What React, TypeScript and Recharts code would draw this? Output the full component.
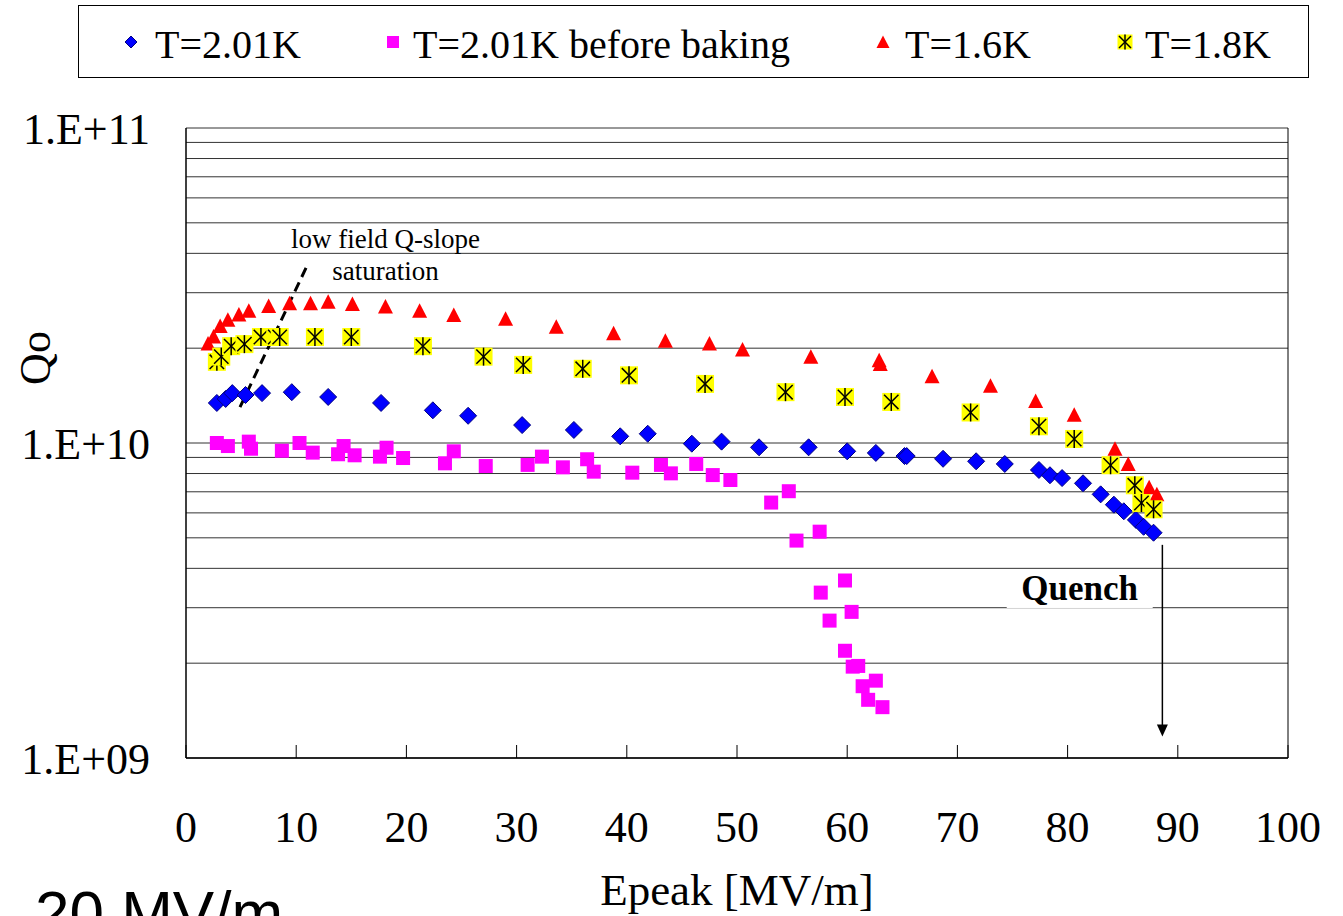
import {
  CartesianGrid,
  Legend,
  ReferenceDot,
  ReferenceLine,
  Scatter,
  ScatterChart,
  XAxis,
  YAxis,
} from "recharts";

const SERIF = '"Liberation Serif", "Times New Roman", serif';
const SANS = '"Liberation Sans", Arial, sans-serif';

const seriesNames = ["T=2.01K", "T=2.01K before baking", "T=1.6K", "T=1.8K"];

const xTicks = [0, 10, 20, 30, 40, 50, 60, 70, 80, 90, 100];
const yTicks = [
  1e9, 2e9, 3e9, 4e9, 5e9, 6e9, 7e9, 8e9, 9e9,
  1e10, 2e10, 3e10, 4e10, 5e10, 6e10, 7e10, 8e10, 9e10,
  1e11,
];
const yLabelTicks = [1e9, 1e10, 1e11];

// [Epeak MV/m, Qo]
const t201K: [number, number][] = [
  [2.8, 1.34e10], [3.6, 1.38e10], [4.2, 1.44e10], [5.4, 1.42e10], [6.9, 1.44e10],
  [9.6, 1.45e10], [12.9, 1.4e10], [17.7, 1.34e10], [22.4, 1.27e10], [25.6, 1.22e10],
  [30.5, 1.14e10], [35.2, 1.1e10], [39.4, 1.05e10], [41.9, 1.07e10], [45.9, 9.95e9],
  [48.6, 1.01e10], [52.0, 9.69e9], [56.5, 9.69e9], [60.0, 9.41e9], [62.6, 9.3e9],
  [65.2, 9.09e9], [65.4, 9.09e9], [68.7, 8.91e9], [71.7, 8.75e9], [74.3, 8.58e9],
  [77.4, 8.21e9], [78.4, 7.9e9], [79.5, 7.74e9], [81.4, 7.45e9], [83.0, 6.87e9],
  [84.2, 6.37e9], [85.1, 6.07e9], [86.2, 5.7e9], [86.9, 5.42e9], [87.8, 5.19e9],
];

const t201KBeforeBaking: [number, number][] = [
  [2.8, 1.0e10], [3.8, 9.78e9], [5.7, 1.01e10], [5.9, 9.59e9], [8.7, 9.45e9],
  [10.3, 1.0e10], [11.5, 9.32e9], [13.8, 9.21e9], [14.3, 9.78e9], [15.3, 9.14e9],
  [17.6, 9.05e9], [18.2, 9.66e9], [19.7, 8.96e9], [23.5, 8.62e9], [24.3, 9.41e9],
  [27.2, 8.45e9], [31.0, 8.52e9], [32.3, 9.05e9], [34.2, 8.37e9], [36.4, 8.88e9],
  [37.0, 8.11e9], [40.5, 8.05e9], [43.1, 8.52e9], [44.0, 8.01e9], [46.3, 8.58e9],
  [47.8, 7.91e9], [49.4, 7.63e9], [53.1, 6.47e9], [54.7, 7.03e9], [55.4, 4.9e9],
  [57.5, 5.23e9], [57.6, 3.35e9], [59.8, 3.66e9], [58.4, 2.73e9], [60.4, 2.91e9],
  [59.8, 2.19e9], [60.5, 1.95e9], [61.0, 1.96e9], [61.4, 1.69e9], [62.6, 1.76e9],
  [61.9, 1.53e9], [63.2, 1.45e9],
];

const t16K: [number, number][] = [
  [2.0, 2.07e10], [2.5, 2.18e10], [3.1, 2.35e10], [3.8, 2.46e10], [4.8, 2.56e10],
  [5.7, 2.63e10], [7.5, 2.72e10], [9.4, 2.78e10], [11.3, 2.78e10], [12.9, 2.81e10],
  [15.1, 2.76e10], [18.1, 2.71e10], [21.2, 2.63e10], [24.3, 2.55e10], [29.0, 2.48e10],
  [33.6, 2.34e10], [38.8, 2.23e10], [43.5, 2.11e10], [47.5, 2.07e10], [50.5, 1.98e10],
  [56.7, 1.88e10], [62.9, 1.83e10], [63.0, 1.78e10], [67.7, 1.63e10], [73.0, 1.52e10],
  [77.1, 1.36e10], [80.6, 1.23e10], [84.3, 9.59e9], [85.5, 8.58e9], [87.4, 7.23e9],
  [88.1, 6.88e9],
];

const t18K: [number, number][] = [
  [2.8, 1.81e10], [3.2, 1.88e10], [4.1, 2.03e10], [5.3, 2.06e10], [6.8, 2.17e10],
  [8.1, 2.17e10], [8.5, 2.17e10], [11.7, 2.17e10], [15.0, 2.17e10], [21.5, 2.03e10],
  [27.0, 1.88e10], [30.6, 1.77e10], [36.0, 1.72e10], [40.2, 1.64e10], [47.1, 1.54e10],
  [54.4, 1.45e10], [59.8, 1.4e10], [64.0, 1.35e10], [71.2, 1.25e10], [77.4, 1.13e10],
  [80.6, 1.03e10], [83.9, 8.5e9], [86.1, 7.34e9], [86.7, 6.45e9], [87.8, 6.16e9],
];

const toPoints = (rows: [number, number][]) => rows.map(([x, y]) => ({ x, y }));

function Diamond({ cx, cy, r = 8.5 }: any) {
  return (
    <polygon
      points={`${cx},${cy - r} ${cx + r},${cy} ${cx},${cy + r} ${cx - r},${cy}`}
      fill="#0000FF"
      stroke="#000080"
      strokeWidth={1}
    />
  );
}

function Square({ cx, cy, r = 7 }: any) {
  return <rect x={cx - r} y={cy - r} width={2 * r} height={2 * r} fill="#FF00FF" />;
}

function Triangle({ cx, cy, r = 7.5 }: any) {
  return (
    <polygon
      points={`${cx},${cy - r} ${cx + r},${cy + r - 0.5} ${cx - r},${cy + r - 0.5}`}
      fill="#FF0000"
    />
  );
}

function StarBox({ cx, cy, r = 9 }: any) {
  const d = r * 0.8;
  return (
    <g>
      <rect x={cx - r} y={cy - r} width={2 * r} height={2 * r} fill="#FFFF00" />
      <g stroke="#000" strokeWidth={1.5}>
        <line x1={cx} y1={cy - r} x2={cx} y2={cy + r} />
        <line x1={cx - d} y1={cy - d} x2={cx + d} y2={cy + d} />
        <line x1={cx - d} y1={cy + d} x2={cx + d} y2={cy - d} />
      </g>
    </g>
  );
}

const legendIcons = [
  <Diamond cx={10} cy={10} r={6} />,
  <Square cx={10} cy={10} r={6} />,
  <Triangle cx={10} cy={10} r={6.5} />,
  <StarBox cx={10} cy={10} r={7.5} />,
];

function LegendBox() {
  const centers = [52, 314, 804, 1046];
  const gaps = [14, 10, 12, 10];
  return (
    <div
      style={{
        width: 1231,
        height: 73,
        border: "1px solid #000",
        boxSizing: "border-box",
        position: "relative",
        background: "#fff",
        fontFamily: SERIF,
        fontSize: 40,
        color: "#000",
      }}
    >
      {seriesNames.map((name, i) => (
        <div
          key={name}
          style={{
            position: "absolute",
            left: centers[i] - 10,
            top: 0,
            height: 71,
            display: "flex",
            alignItems: "center",
            whiteSpace: "nowrap",
          }}
        >
          <svg width={20} height={20} style={{ display: "block" }}>
            {legendIcons[i]}
          </svg>
          <span style={{ marginLeft: gaps[i], lineHeight: 1, position: "relative", top: 3 }}>
            {name}
          </span>
        </div>
      ))}
    </div>
  );
}

function ArrowLine({ x1, y1, x2, y2 }: any) {
  return (
    <g>
      <line x1={x1} y1={y1} x2={x2} y2={y2 - 10} stroke="#000" strokeWidth={1.5} />
      <polygon points={`${x2},${y2} ${x2 - 5.5},${y2 - 12} ${x2 + 5.5},${y2 - 12}`} fill="#000" />
    </g>
  );
}

function QuenchLabel({ cx, cy }: any) {
  return (
    <g>
      <rect x={cx - 73} y={cy - 19} width={146} height={38} fill="#fff" />
      <text
        x={cx}
        y={cy}
        textAnchor="middle"
        dominantBaseline="central"
        fontFamily={SERIF}
        fontWeight="bold"
        fontSize={35}
        fill="#000"
      >
        Quench
      </text>
    </g>
  );
}

const noteText = (txt: string) =>
  function Note({ cx, cy }: any) {
    return (
      <text x={cx} y={cy} textAnchor="middle" dominantBaseline="central" fontFamily={SERIF} fontSize={27} fill="#000">
        {txt}
      </text>
    );
  };

function QoLabel() {
  return (
    <text
      x={50}
      y={358}
      transform="rotate(-90 50 358)"
      textAnchor="middle"
      fontFamily={SERIF}
      fontSize={44}
      fill="#000"
    >
      Qo
    </text>
  );
}

const fmtY = (v: number) =>
  yLabelTicks.includes(v) ? `1.E+${String(Math.round(Math.log10(v))).padStart(2, "0")}` : "";

export default function App() {
  return (
    <div
      style={{
        position: "fixed",
        left: 0,
        top: 0,
        width: 1343,
        height: 916,
        overflow: "hidden",
        background: "#fff",
      }}
    >
      <ScatterChart
        width={1343}
        height={916}
        margin={{ top: 128, right: 55, bottom: 0, left: 0 }}
        style={{ fontFamily: SERIF }}
      >
        <CartesianGrid vertical={false} stroke="#333" strokeWidth={1} />
        <XAxis
          type="number"
          dataKey="x"
          domain={[0, 100]}
          ticks={xTicks}
          interval={0}
          height={158}
          axisLine={{ stroke: "#000", strokeWidth: 1.5 }}
          tickLine={{ stroke: "#000", strokeWidth: 1 }}
          tickSize={-13}
          tickMargin={66}
          tick={{ fill: "#000", fontSize: 44, fontFamily: SERIF }}
          label={{
            value: "Epeak [MV/m]",
            position: "insideBottom",
            offset: 11,
            fill: "#000",
            fontSize: 45,
            fontFamily: SERIF,
          }}
        />
        <YAxis
          type="number"
          dataKey="y"
          scale="log"
          domain={[1e9, 1e11]}
          allowDataOverflow
          ticks={yTicks}
          interval={0}
          width={186}
          tickFormatter={fmtY}
          axisLine={{ stroke: "#000", strokeWidth: 1.5 }}
          tickLine={false}
          tickSize={0}
          tickMargin={36}
          tick={{ fill: "#000", fontSize: 44, fontFamily: SERIF }}
          label={{ content: () => <QoLabel /> }}
        />
        <ReferenceLine x={100} stroke="#000" strokeWidth={1} />
        <Legend
          layout="horizontal"
          verticalAlign="middle"
          align="center"
          wrapperStyle={{ top: 5, left: 78, width: 1231, height: 73 }}
          content={() => <LegendBox />}
        />
        <Scatter
          name={seriesNames[0]}
          data={toPoints(t201K)}
          shape={Diamond}
          isAnimationActive={false}
        />
        <Scatter
          name={seriesNames[1]}
          data={toPoints(t201KBeforeBaking)}
          shape={Square}
          isAnimationActive={false}
        />
        <Scatter
          name={seriesNames[2]}
          data={toPoints(t16K)}
          shape={Triangle}
          isAnimationActive={false}
        />
        <Scatter
          name={seriesNames[3]}
          data={toPoints(t18K)}
          shape={StarBox}
          isAnimationActive={false}
        />
        <ReferenceLine
          segment={[
            { x: 4.9, y: 1.3e10 },
            { x: 10.95, y: 3.63e10 },
          ]}
          stroke="#000"
          strokeWidth={3}
          strokeDasharray="10 6"
          ifOverflow="visible"
        />
        <ReferenceDot x={18.1} y={4.44e10} shape={noteText("low field Q-slope")} ifOverflow="visible" />
        <ReferenceDot x={18.1} y={3.52e10} shape={noteText("saturation")} ifOverflow="visible" />
        <ReferenceDot x={81.1} y={3.44e9} shape={QuenchLabel} ifOverflow="visible" />
        <ReferenceLine
          segment={[
            { x: 88.6, y: 4.75e9 },
            { x: 88.6, y: 1.17e9 },
          ]}
          shape={ArrowLine}
          ifOverflow="visible"
        />
      </ScatterChart>
      <div
        style={{
          position: "absolute",
          left: 35,
          top: 882,
          fontFamily: SANS,
          fontSize: 62,
          lineHeight: 1,
          color: "#000",
          whiteSpace: "nowrap",
        }}
      >
        20 MV/m
      </div>
    </div>
  );
}
